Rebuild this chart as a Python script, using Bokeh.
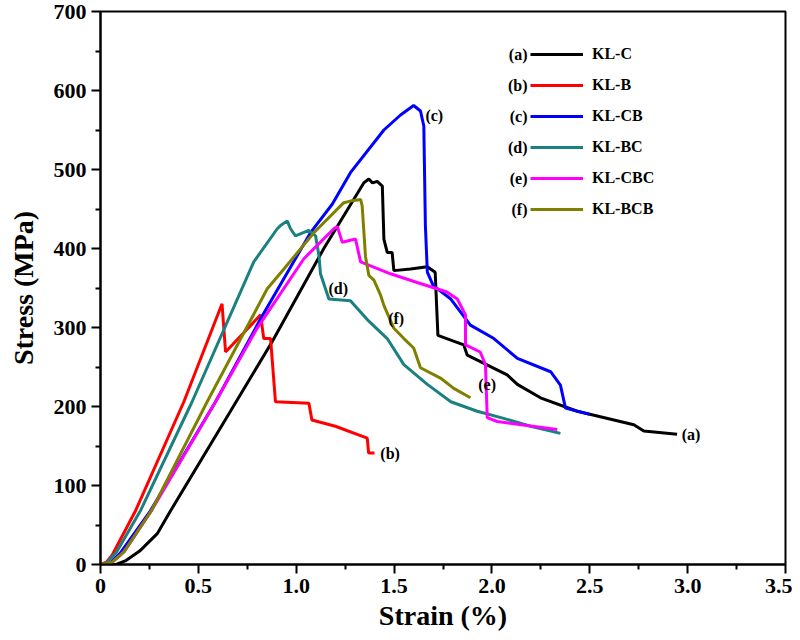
from bokeh.plotting import figure
from bokeh.models import Range1d, FixedTicker, Legend, LegendItem, Label
from bokeh.embed import file_html
from bokeh.resources import INLINE

# strain (%) / stress (MPa)
kl_c_x = [0, 0.08, 0.13, 0.2, 0.29, 0.358, 0.664, 0.877, 1.141, 1.345, 1.371, 1.39, 1.414, 1.44,
          1.448, 1.465, 1.49, 1.499, 1.584, 1.67, 1.71, 1.724, 1.856, 1.874, 2.078, 2.13, 2.248,
          2.436, 2.725, 2.776, 2.946]
kl_c_y = [0, 0, 5, 17, 39, 68, 194, 282, 400, 483, 488, 483, 485, 479,
          412, 395, 395, 372, 374, 377, 370, 290, 278, 265, 240, 228, 211,
          194, 177, 169, 165]

kl_b_x = [0, 0.03, 0.06, 0.179, 0.426, 0.621, 0.639, 0.818, 0.834, 0.869, 0.894, 1.065, 1.08,
          1.2, 1.363, 1.37, 1.40]
kl_b_y = [0, 3, 12, 68, 206, 330, 269, 316, 286, 286, 206, 204, 183,
          175, 160, 141, 141]

kl_cb_x = [0, 0.05, 0.1, 0.255, 0.588, 0.818, 1.073, 1.184, 1.277, 1.448, 1.533, 1.60, 1.635,
           1.652, 1.66, 1.67, 1.70, 1.79, 1.89, 2.01, 2.13, 2.30, 2.35, 2.376, 2.50]
kl_cb_y = [0, 2, 14, 68, 206, 311, 420, 456, 496, 550, 569, 581, 574,
           555, 429, 370, 353, 336, 303, 286, 261, 244, 227, 198, 190]

kl_bc_x = [0, 0.03, 0.08, 0.204, 0.468, 0.783, 0.903, 0.92, 0.954, 0.971, 0.996, 1.064, 1.099,
           1.116, 1.124, 1.167, 1.277, 1.363, 1.465, 1.55, 1.67, 1.79, 1.925, 2.06, 2.197, 2.35]
kl_bc_y = [0, 2, 15, 68, 206, 383, 425, 429, 435, 425, 416, 423, 416,
           391, 368, 336, 334, 310, 286, 253, 228, 206, 194, 185, 175, 166]

kl_cbc_x = [0, 0.06, 0.12, 0.26, 0.588, 0.80, 1.039, 1.107, 1.192, 1.21, 1.235, 1.303, 1.329,
            1.482, 1.618, 1.77, 1.823, 1.865, 1.865, 1.94, 1.967, 1.976, 2.027, 2.334]
kl_cbc_y = [0, 3, 16, 68, 206, 299, 387, 404, 425, 428, 408, 412, 383,
            368, 357, 345, 336, 316, 278, 269, 253, 186, 181, 171]

kl_bcb_x = [0, 0.06, 0.12, 0.26, 0.545, 0.852, 0.937, 1.09, 1.243, 1.277, 1.329, 1.337, 1.354,
            1.371, 1.397, 1.431, 1.448, 1.499, 1.55, 1.60, 1.635, 1.737, 1.805, 1.89]
kl_bcb_y = [0, 3, 16, 68, 206, 349, 374, 420, 458, 460, 462, 454, 390,
            366, 360, 341, 328, 299, 286, 274, 249, 236, 223, 211]

names = ["KL-C", "KL-B", "KL-CB", "KL-BC", "KL-CBC", "KL-BCB"]
tags = ["(a)", "(b)", "(c)", "(d)", "(e)", "(f)"]
colors = ["black", "#ff0000", "#0000ff", "#1a8080", "#ff00ff", "#808000"]
xs = [kl_c_x, kl_b_x, kl_cb_x, kl_bc_x, kl_cbc_x, kl_bcb_x]
ys = [kl_c_y, kl_b_y, kl_cb_y, kl_bc_y, kl_cbc_y, kl_bcb_y]

# where the (a)..(f) tags sit next to the curves
tag_x = [2.97, 1.43, 1.66, 1.165, 1.93, 1.47]
tag_y = [165, 141, 568, 349, 228, 311]

FONT = "Liberation Serif"

p = figure(width=792, height=634, output_backend="svg", toolbar_location=None,
           x_range=Range1d(0, 3.5), y_range=Range1d(0, 700),
           min_border_left=100, min_border_right=7, min_border_top=11, min_border_bottom=70)
p.xgrid.visible = False
p.ygrid.visible = False
p.outline_line_color = "black"
p.outline_line_width = 2
p.background_fill_color = "white"
p.border_fill_color = "white"

p.xaxis.ticker = FixedTicker(ticks=[0, 0.5, 1.0, 1.5, 2.0, 2.5, 3.0, 3.5],
                             minor_ticks=[0.25, 0.75, 1.25, 1.75, 2.25, 2.75, 3.25])
p.xaxis.major_label_overrides = {0: "0", 0.5: "0.5", 1.0: "1.0", 1.5: "1.5", 2.0: "2.0",
                                 2.5: "2.5", 3.0: "3.0", 3.5: "3.5"}
p.yaxis.ticker = FixedTicker(ticks=list(range(0, 701, 100)),
                             minor_ticks=list(range(50, 700, 100)))
p.xaxis.axis_label = "Strain (%)"
p.yaxis.axis_label = "Stress (MPa)"

for ax in (p.xaxis, p.yaxis):
    ax.axis_line_width = 2
    ax.major_tick_line_width = 2
    ax.minor_tick_line_width = 2
    ax.major_tick_in = 0
    ax.major_tick_out = 9
    ax.minor_tick_in = 0
    ax.minor_tick_out = 5
    ax.major_label_text_font = FONT
    ax.major_label_text_font_style = "bold"
    ax.major_label_text_font_size = "22px"
    ax.major_label_text_color = "black"
    ax.axis_label_text_font = FONT
    ax.axis_label_text_font_style = "bold"
    ax.axis_label_text_font_size = "28px"
    ax.axis_label_text_color = "black"
p.xaxis.major_label_standoff = 5
p.xaxis.axis_label_standoff = 4
p.yaxis.major_label_standoff = 5
p.yaxis.axis_label_standoff = 12

items = []
for i in range(len(names)):
    r = p.line(xs[i], ys[i], line_color=colors[i], line_width=3)
    items.append(LegendItem(label=names[i], renderers=[r]))
    p.add_layout(Label(x=tag_x[i], y=tag_y[i], text=tags[i], text_font=FONT,
                       text_font_style="bold", text_font_size="16px", text_color="black",
                       text_baseline="middle", text_align="left"))

legend = Legend(items=items, location=(430, 345), padding=0, margin=0,
                glyph_width=53, glyph_height=20, label_height=20, spacing=11,
                label_standoff=9, border_line_color=None, background_fill_alpha=0,
                label_text_font=FONT, label_text_font_style="bold",
                label_text_font_size="16px", label_text_color="black")
p.add_layout(legend)

# the (a)..(f) prefixes in front of the legend lines
for i in range(len(tags)):
    p.add_layout(Label(x=427, y=510 - 31 * i, x_units="screen", y_units="screen",
                       text=tags[i], text_font=FONT, text_font_style="bold", text_color="black",
                       text_font_size="16px", text_align="right", text_baseline="middle"))

open("out.html", "w").write(file_html(p, INLINE))
